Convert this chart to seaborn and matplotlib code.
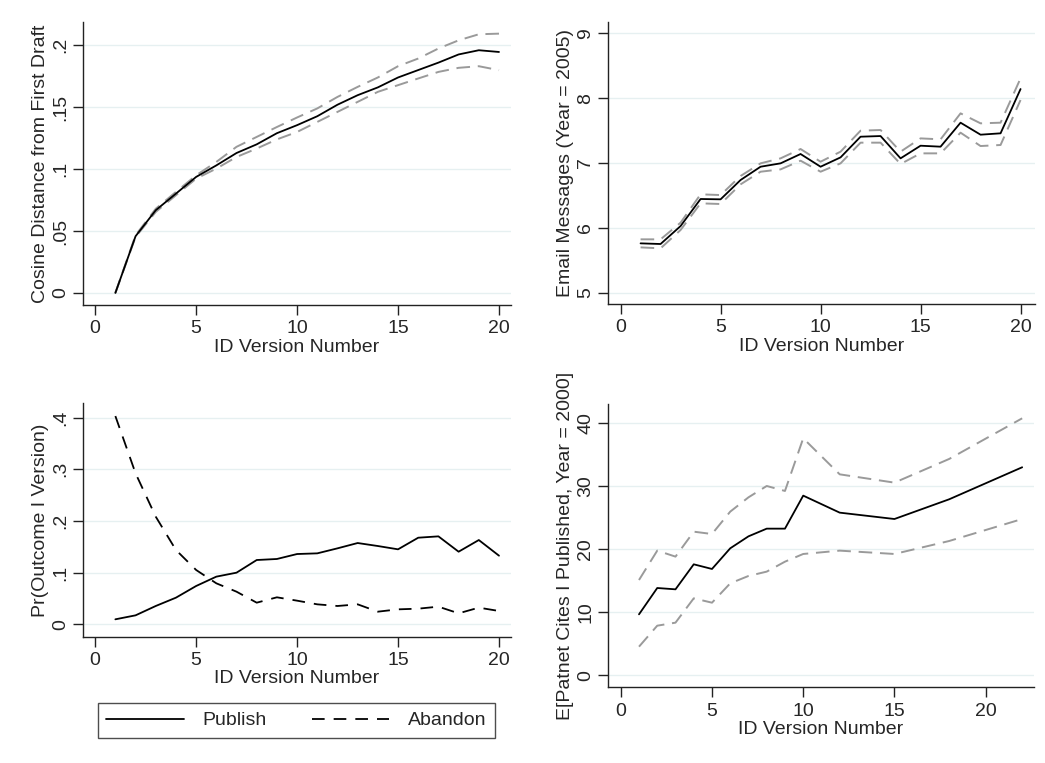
import numpy as np
import pandas as pd
import matplotlib
matplotlib.use("Agg")
import matplotlib.pyplot as plt
import seaborn as sns

# ---------------- data ----------------
versions = list(range(1, 21))

cos_mean = [0.0, 0.0458, 0.0668, 0.0802, 0.0937, 0.103, 0.113, 0.120, 0.129, 0.1355,
            0.1427, 0.152, 0.1597, 0.166, 0.174, 0.180, 0.186, 0.1926, 0.196, 0.1946]
cos_upper = [0.0, 0.0466, 0.068, 0.0816, 0.095, 0.1058, 0.118, 0.126, 0.134, 0.1417,
             0.149, 0.1583, 0.1664, 0.174, 0.1831, 0.1893, 0.1974, 0.204, 0.2089, 0.2094]
cos_lower = [0.0, 0.0452, 0.0654, 0.0789, 0.0923, 0.1004, 0.1098, 0.1166, 0.124, 0.130,
             0.1381, 0.1462, 0.1543, 0.1624, 0.1678, 0.1732, 0.1785, 0.1818, 0.1831, 0.1799]

email_mean = [5.761, 5.751, 6.028, 6.445, 6.44, 6.738, 6.943, 6.995, 7.139, 6.943,
              7.087, 7.406, 7.416, 7.072, 7.267, 7.252, 7.622, 7.437, 7.458, 8.141]
email_upper = [5.823, 5.823, 6.08, 6.517, 6.506, 6.8, 6.995, 7.072, 7.216, 7.02,
               7.175, 7.499, 7.509, 7.175, 7.38, 7.365, 7.766, 7.612, 7.622, 8.306]
email_lower = [5.699, 5.684, 5.967, 6.378, 6.368, 6.671, 6.866, 6.902, 7.036, 6.866,
               6.995, 7.314, 7.314, 6.985, 7.149, 7.149, 7.468, 7.262, 7.278, 7.972]

pr_publish = [0.0097, 0.0174, 0.0355, 0.0516, 0.0742, 0.0923, 0.100, 0.1245, 0.1265, 0.1361,
              0.1374, 0.1471, 0.1574, 0.1516, 0.1452, 0.1677, 0.1703, 0.1406, 0.1632, 0.1329]
pr_abandon = [0.4032, 0.2923, 0.2084, 0.1439, 0.1052, 0.0794, 0.0632, 0.0419, 0.0523, 0.0458,
              0.0387, 0.0355, 0.0387, 0.0245, 0.029, 0.0303, 0.0342, 0.0213, 0.0323, 0.0258]

cite_versions = [1, 2, 3, 4, 5, 6, 7, 8, 9, 10, 12, 15, 18, 22]
cite_mean = [9.68, 13.86, 13.65, 17.62, 16.88, 20.16, 22.06, 23.28, 23.28, 28.52,
             25.82, 24.81, 27.94, 33.02]
cite_upper = [15.13, 19.79, 18.84, 22.8, 22.43, 25.98, 28.25, 30.05, 29.26, 37.62,
              31.9, 30.58, 34.34, 40.79]
cite_lower = [4.55, 7.88, 8.36, 12.22, 11.53, 14.6, 15.77, 16.46, 18.04, 19.26,
              19.79, 19.26, 21.32, 24.81]

xticks_20 = [0, 5, 10, 15, 20]
cos_ticks = [0, 0.05, 0.1, 0.15, 0.2]
cos_ticklabels = ["0", ".05", ".1", ".15", ".2"]
email_ticks = [5, 6, 7, 8, 9]
email_ticklabels = ["5", "6", "7", "8", "9"]
pr_ticks = [0, 0.1, 0.2, 0.3, 0.4]
pr_ticklabels = ["0", ".1", ".2", ".3", ".4"]
cite_ticks = [0, 10, 20, 30, 40]
cite_ticklabels = ["0", "10", "20", "30", "40"]

xlabel = "ID Version Number"
ylabels = ["Cosine Distance from First Draft",
           "Email Messages (Year = 2005)",
           "Pr(Outcome I Version)",
           "E[Patnet Cites I Published, Year = 2000]"]
legend_labels = ["Publish", "Abandon"]

# ---------------- style ----------------
sns.set_theme(style="white")
plt.rcParams["font.family"] = ["Liberation Sans", "DejaVu Sans"]
FS = 14
GRID = "#e6f0f1"
CI_COLOR = "#9a9a9a"

fig = plt.figure(figsize=(10.45, 7.63), dpi=100)
ax1 = fig.add_axes([0.0791, 0.600, 0.410, 0.371])
ax2 = fig.add_axes([0.5818, 0.6016, 0.4082, 0.370])
ax3 = fig.add_axes([0.0791, 0.1655, 0.410, 0.306])
ax4 = fig.add_axes([0.5818, 0.0992, 0.4077, 0.3713])


def style_axis(ax, yticks, yticklabels, ylim, xlim, xticks, ylabel):
    ax.set_xlim(*xlim)
    ax.set_ylim(*ylim)
    ax.set_xticks(xticks)
    ax.set_xticklabels([str(t) for t in xticks], fontsize=FS)
    ax.set_yticks(yticks)
    ax.set_yticklabels(yticklabels, fontsize=FS, rotation=90, va="center")
    for t in yticks:
        ax.axhline(t, color=GRID, lw=1.0, zorder=0)
    for side in ["top", "right"]:
        ax.spines[side].set_visible(False)
    for side in ["left", "bottom"]:
        ax.spines[side].set_color("#222222")
        ax.spines[side].set_linewidth(1.0)
    ax.tick_params(axis="x", which="major", direction="out", length=7,
                   width=1.0, color="#222222", pad=4, bottom=True)
    ax.tick_params(axis="y", which="major", direction="out", length=7,
                   width=1.0, color="#222222", pad=3, left=True)
    ax.set_xlabel(xlabel, fontsize=FS, labelpad=1)
    ax.set_ylabel(ylabel, fontsize=FS, labelpad=2)
    ax.grid(False)


def ci_plot(ax, x, mean, upper, lower):
    sns.lineplot(x=x, y=upper, ax=ax, color=CI_COLOR, lw=1.4,
                 linestyle=(0, (7, 4)))
    sns.lineplot(x=x, y=lower, ax=ax, color=CI_COLOR, lw=1.4,
                 linestyle=(0, (7, 4)))
    sns.lineplot(x=x, y=mean, ax=ax, color="black", lw=1.3)


ci_plot(ax1, versions, cos_mean, cos_upper, cos_lower)
style_axis(ax1, cos_ticks, cos_ticklabels, (-0.0099, 0.2187), (-0.62, 20.6),
           xticks_20, ylabels[0])

ci_plot(ax2, versions, email_mean, email_upper, email_lower)
style_axis(ax2, email_ticks, email_ticklabels, (4.826, 9.18), (-0.63, 20.7),
           xticks_20, ylabels[1])

sns.lineplot(x=versions, y=pr_publish, ax=ax3, color="black", lw=1.3,
             label=legend_labels[0], legend=False)
sns.lineplot(x=versions, y=pr_abandon, ax=ax3, color="black", lw=1.3,
             linestyle=(0, (7, 5)), label=legend_labels[1], legend=False)
style_axis(ax3, pr_ticks, pr_ticklabels, (-0.024, 0.428), (-0.62, 20.6),
           xticks_20, ylabels[2])

ci_plot(ax4, cite_versions, cite_mean, cite_upper, cite_lower)
style_axis(ax4, cite_ticks, cite_ticklabels, (-1.9, 43.06), (-0.7, 22.65),
           xticks_20, ylabels[3])

handles, labels = ax3.get_legend_handles_labels()
leg = fig.legend(handles, labels, ncol=2, loc="center",
                 bbox_to_anchor=(0.2837, 0.0557),
                 bbox_transform=fig.transFigure,
                 fontsize=FS, frameon=True, fancybox=False, handlelength=4.0,
                 handletextpad=0.95, columnspacing=2.3, borderpad=0.45,
                 borderaxespad=0)
leg.get_frame().set_edgecolor("#222222")
leg.get_frame().set_linewidth(1.0)

fig.savefig("out.png", dpi=100, facecolor="white")
